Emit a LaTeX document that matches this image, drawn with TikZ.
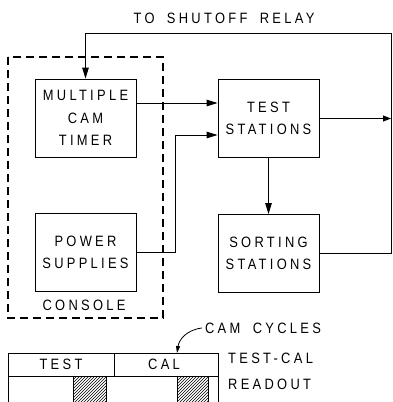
\documentclass[tikz,border=0pt]{standalone}
\usepackage{fontspec}
\setmainfont{Liberation Sans}
\newfontfamily\lsfont[LetterSpace=22,FakeStretch=0.86,WordSpace=1.8]{Liberation Sans}
\usetikzlibrary{arrows.meta,patterns}
\begin{document}
\begin{tikzpicture}[x=1pt,y=-1pt,
  lab/.style={font={\lsfont\fontsize{15}{22.5}\selectfont},align=center,inner sep=0pt},
  blk/.style={draw,line width=0.8pt,minimum width=101pt,minimum height=78pt,inner sep=0pt,
    font={\lsfont\fontsize{15}{22.5}\selectfont},align=center},
  conn/.style={line width=0.9pt},
  arr/.style={conn,-{Triangle[length=11pt,width=6.5pt]}},
  thin/.style={line width=0.8pt}]
\useasboundingbox (0,0) rectangle (393,402);
\clip (0,0) rectangle (393,402);
% console
\draw[line width=1.1pt,dash pattern=on 8pt off 5pt] (8,57) rectangle (163,318);
\node[lab] (console) at (84,305) {CONSOLE};
% blocks
\node[blk] (mct) at (85.5,118) {MULTIPLE\\CAM\\TIMER};
\node[blk] (ts) at (268.5,118.5) {TEST\\STATIONS};
\node[blk] (ps) at (85.5,252.5) {POWER\\SUPPLIES};
\node[blk] (ss) at (268.5,253.5) {SORTING\\STATIONS};
\node[lab] (relay) at (224,18) {TO SHUTOFF RELAY};
% connectors
\coordinate (tr) at (391,33);
\coordinate (m1) at (0,103);
\coordinate (p1) at (0,135);
\coordinate (bend) at (175,0);
\draw[arr] (mct.east |- m1) -- (ts.west |- m1);
\draw[arr] (ps.east) -| (bend |- ps.east) |- (ts.west |- p1);
\draw[arr] (ts.south) -- (ss.north);
\draw[arr] (ss.east) -| (tr) -| (mct.north);
\draw[conn,-{Triangle[length=8pt,width=6pt]}] (ts.east) -- (ts.east -| tr);
% readout bar
\node[lab] (cc) at (263,328) {CAM CYCLES};
\node[lab,anchor=base west] (tc) at (228,363) {TEST-CAL};
\node[lab,anchor=base west] (ro) at (228,389) {READOUT};
\coordinate (bl) at (8,353);
\coordinate (br) at (218,353);
\draw[thin] (8,410) -- (bl) -- (br) -- (218,410);
\draw[thin] (8,376) -- (218,376);
\draw[thin] (114,353) -- (114,376);
\node[lab] (test) at (61,364.5) {TEST};
\node[lab] (cal) at (164,364.5) {CAL};
\draw[thin,pattern=north east lines] (73,376) rectangle (106,410);
\draw[thin,pattern=north east lines] (177,376) rectangle (208,410);
\coordinate (ctip) at (177,353);
\draw[thin,-{Triangle[length=7pt,width=4pt]}] ([xshift=-3pt]cc.west) .. controls (186,330) and (179,340) .. (ctip);
\end{tikzpicture}
\end{document}
